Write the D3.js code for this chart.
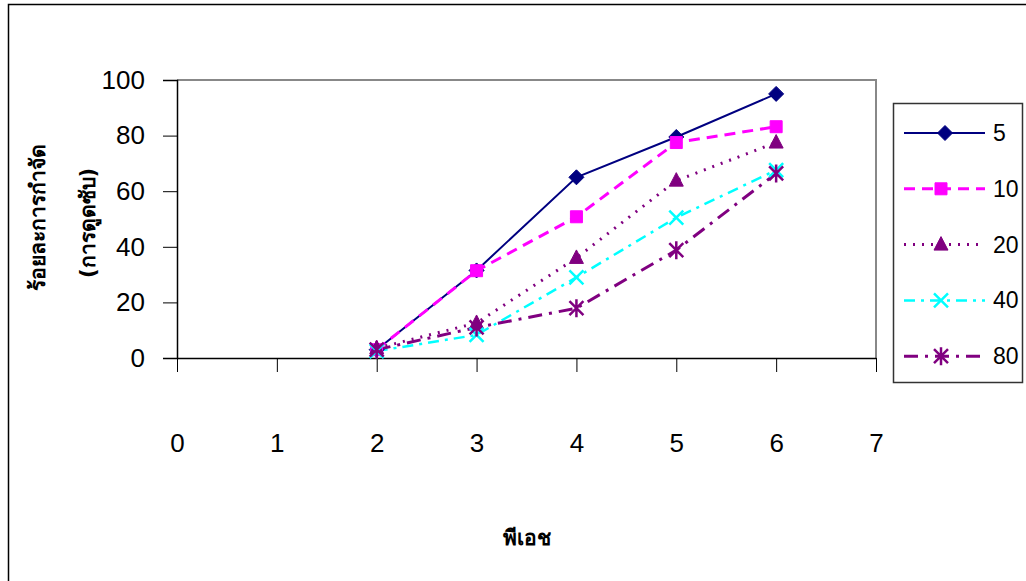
<!DOCTYPE html>
<html>
<head>
<meta charset="utf-8">
<script src="https://cdn.jsdelivr.net/npm/d3@7"></script>
<style>
  body { margin: 0; background: #fff; }
  text { font-family: "Liberation Sans", Arial, sans-serif; }
  .thai { font-family: "DejaVu Sans", "Noto Sans", sans-serif; font-weight: bold; }
</style>
</head>
<body>
<svg id="chart" width="1026" height="581"></svg>
<script>
// pH values on the x axis
const phValues = [2, 3, 4, 5, 6];
// removal % (adsorption) per concentration
const seriesNames = ["5", "10", "20", "40", "80"];
const s5 = [3, 31.5, 65, 79.5, 95];
const s10 = [3, 31.4, 50.8, 77.5, 83.2];
const s20 = [3.5, 12.6, 36, 63.8, 77.5];
const s40 = [2.5, 8.3, 29, 50.5, 67.6];
const s80 = [3, 11, 17.9, 38.8, 66.4];
const yTicks = [0, 20, 40, 60, 80, 100];
const xTicks = [0, 1, 2, 3, 4, 5, 6, 7];

const styles = [
  { color: "#000080", dash: null, width: 2, marker: "diamond" },
  { color: "#FF00FF", dash: "11,7", width: 3, marker: "square" },
  { color: "#800080", dash: "2,7", width: 3, marker: "triangle" },
  { color: "#00FFFF", dash: "11,6,3,6", width: 2.5, marker: "cross" },
  { color: "#800080", dash: "14,7,3,7", width: 3, marker: "star" }
];

const series = [s5, s10, s20, s40, s80].map((vals, i) => ({
  name: seriesNames[i],
  style: styles[i],
  points: vals.map((v, j) => ({ x: phValues[j], y: v }))
}));

const svg = d3.select("#chart");

// outer chart frame (left and top edges visible)
svg.append("path")
  .attr("d", "M8.5,581 V4.5 H1026")
  .attr("fill", "none")
  .attr("stroke", "#000")
  .attr("stroke-width", 1.5);

const x = d3.scaleLinear().domain([0, 7]).range([177, 876]);
const y = d3.scaleLinear().domain([0, 100]).range([358, 80]);

// plot area border (grey, top and right)
svg.append("path")
  .attr("d", `M${x(0)},${y(100)} H${x(7)} V${y(0)}`)
  .attr("fill", "none")
  .attr("stroke", "#888")
  .attr("stroke-width", 2);

// y axis
const yAxis = svg.append("g")
  .attr("transform", `translate(${x(0)},0)`)
  .call(d3.axisLeft(y).tickValues(yTicks).tickSize(14).tickPadding(18));
yAxis.select(".domain").attr("stroke", "#000").attr("stroke-width", 1.5);
yAxis.selectAll(".tick line").attr("stroke", "#000").attr("stroke-width", 1);
yAxis.selectAll(".tick text")
  .attr("font-size", 26)
  .attr("font-family", "Liberation Sans, Arial, sans-serif")
  .attr("fill", "#000");

// x axis
const xAxis = svg.append("g")
  .attr("transform", `translate(0,${y(0)})`)
  .call(d3.axisBottom(x).tickValues(xTicks).tickFormat(d3.format("d"))
    .tickSize(14).tickPadding(0).tickSizeOuter(0));
xAxis.select(".domain").attr("stroke", "#000").attr("stroke-width", 1.5);
xAxis.selectAll(".tick line").attr("stroke", "#000").attr("stroke-width", 1);
xAxis.selectAll(".tick text")
  .attr("y", 85)
  .attr("dy", "0.35em")
  .attr("font-size", 26)
  .attr("font-family", "Liberation Sans, Arial, sans-serif")
  .attr("fill", "#000");

// markers
function markerPath(type) {
  if (type === "diamond") return "M0,-7.5 L7.5,0 L0,7.5 L-7.5,0 Z";
  if (type === "square") return "M-6,-6 H6 V6 H-6 Z";
  if (type === "triangle") return "M0,-8 L7,5.5 L-7,5.5 Z";
  if (type === "cross") return "M-7,-7 L7,7 M-7,7 L7,-7";
  return "M-7,-7 L7,7 M-7,7 L7,-7 M0,-9 V9";
}

const line = d3.line().x(d => x(d.x)).y(d => y(d.y));

series.forEach(s => {
  svg.append("path")
    .datum(s.points)
    .attr("d", line)
    .attr("fill", "none")
    .attr("stroke", s.style.color)
    .attr("stroke-width", s.style.width)
    .attr("stroke-dasharray", s.style.dash);
});

series.forEach(s => {
  const filled = s.style.marker === "diamond" || s.style.marker === "square" || s.style.marker === "triangle";
  svg.append("g").selectAll("path")
    .data(s.points)
    .join("path")
    .attr("transform", d => `translate(${x(d.x)},${y(d.y)})`)
    .attr("d", markerPath(s.style.marker))
    .attr("fill", filled ? s.style.color : "none")
    .attr("stroke", s.style.color)
    .attr("stroke-width", filled ? 1 : 2.5);
});

// legend
const legend = svg.append("g");
legend.append("rect")
  .attr("x", 893.5).attr("y", 103.5)
  .attr("width", 129).attr("height", 279)
  .attr("fill", "#fff")
  .attr("stroke", "#333")
  .attr("stroke-width", 1.5);

series.forEach((s, i) => {
  const ly = 133 + i * 55.8;
  const g = legend.append("g");
  g.append("line")
    .attr("x1", 904).attr("x2", 985)
    .attr("y1", ly).attr("y2", ly)
    .attr("stroke", s.style.color)
    .attr("stroke-width", s.style.width)
    .attr("stroke-dasharray", s.style.dash);
  const filled = i < 3;
  g.append("path")
    .attr("transform", `translate(${i === 0 ? 945 : 941},${ly})`)
    .attr("d", markerPath(s.style.marker))
    .attr("fill", filled ? s.style.color : "none")
    .attr("stroke", s.style.color)
    .attr("stroke-width", filled ? 1 : 2.5);
  g.append("text")
    .attr("x", 993).attr("y", ly)
    .attr("dy", "0.35em")
    .attr("font-size", 23)
    .attr("fill", "#000")
    .text(s.name);
});

// axis titles
svg.append("text")
  .attr("class", "thai")
  .attr("transform", "translate(38,217) rotate(-90)")
  .attr("text-anchor", "middle")
  .attr("dy", "0.35em")
  .attr("font-size", 21)
  .text("ร้อยละการกำจัด");

svg.append("text")
  .attr("class", "thai")
  .attr("transform", "translate(88,223) rotate(-90)")
  .attr("text-anchor", "middle")
  .attr("dy", "0.35em")
  .attr("font-size", 21)
  .text("(การดูดซับ)");

svg.append("text")
  .attr("class", "thai")
  .attr("x", 527).attr("y", 538)
  .attr("text-anchor", "middle")
  .attr("dy", "0.35em")
  .attr("font-size", 21)
  .text("พีเอช");
</script>
</body>
</html>
